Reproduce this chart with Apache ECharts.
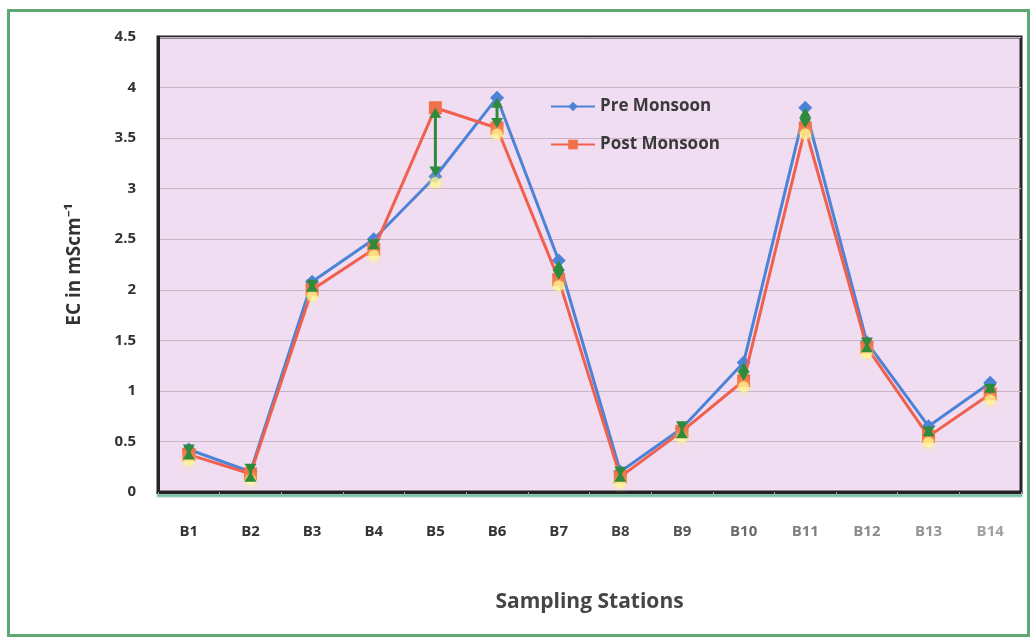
<!DOCTYPE html>
<html>
<head>
<meta charset="utf-8">
<script src="https://cdn.jsdelivr.net/npm/echarts@6/dist/echarts.min.js"></script>
<style>
  html, body { margin: 0; padding: 0; background: #ffffff; }
  #chart { width: 1032px; height: 637px; }
</style>
</head>
<body>
<div id="chart"></div>
<script>
// Sampling stations along the river
const stations = ['B1','B2','B3','B4','B5','B6','B7','B8','B9','B10','B11','B12','B13','B14'];
// Electrical conductivity, mS/cm
const preMonsoon  = [0.42, 0.20, 2.08, 2.50, 3.12, 3.90, 2.29, 0.20, 0.63, 1.28, 3.80, 1.48, 0.65, 1.08];
const postMonsoon = [0.37, 0.18, 2.00, 2.40, 3.80, 3.60, 2.10, 0.15, 0.60, 1.10, 3.60, 1.43, 0.55, 0.97];
// Tick label shades (lighter toward the right)
const labelShades = ['#333','#333','#333','#333','#333','#333','#383838','#444','#555','#6a6a6a','#808080','#8c8c8c','#959595','#a0a0a0'];

const changeData = stations.map((s, i) => [i, preMonsoon[i], postMonsoon[i]]);
const lowData = stations.map((s, i) => [i, Math.min(preMonsoon[i], postMonsoon[i])]);

const chart = echarts.init(document.getElementById('chart'), null, { renderer: 'canvas' });

// Double-headed arrow between the two seasonal readings
function renderArrow(params, api) {
  const i = api.value(0);
  const a = api.coord([i, api.value(1)]);
  const b = api.coord([i, api.value(2)]);
  const x = a[0];
  const top = Math.min(a[1], b[1]);
  const bot = Math.max(a[1], b[1]);
  const hw = 6, hh = 10;
  const green = '#2f8a3c';
  return {
    type: 'group',
    children: [
      { type: 'line', shape: { x1: x, y1: top + hh - 1, x2: x, y2: bot - hh + 1 },
        style: { stroke: green, lineWidth: 3 } },
      { type: 'polygon', shape: { points: [[x, top], [x - hw, top + hh], [x + hw, top + hh]] },
        style: { fill: green } },
      { type: 'polygon', shape: { points: [[x, bot], [x - hw, bot - hh], [x + hw, bot - hh]] },
        style: { fill: green } }
    ]
  };
}

const option = {
  backgroundColor: '#ffffff',
  animation: false,
  textStyle: { fontFamily: '"Open Sans", "Noto Sans", sans-serif' },
  graphic: [{
    type: 'rect', left: 6, top: 8, z: -10,
    shape: { width: 1020, height: 625 },
    style: { fill: 'none', stroke: '#5fa873', lineWidth: 3 }
  }],
  grid: {
    left: 158, top: 37, right: 11, bottom: 145,
    show: true, backgroundColor: '#f1ddf1', borderColor: '#262626', borderWidth: 3
  },
  legend: {
    orient: 'vertical', left: 545, top: 93, itemGap: 21,
    itemWidth: 44, itemHeight: 12,
    textStyle: { fontSize: 17, fontWeight: 'bold', color: '#3a3a3a' },
    data: ['Pre Monsoon', 'Post Monsoon']
  },
  xAxis: {
    type: 'category', data: stations,
    name: 'Sampling Stations', nameLocation: 'middle', nameGap: 100,
    nameTextStyle: { fontSize: 21, fontWeight: 'bold', color: '#454545' },
    axisLine: { lineStyle: { color: '#222', width: 3, shadowColor: 'rgba(40,150,110,0.7)', shadowOffsetY: 3, shadowBlur: 2 } },
    axisTick: { show: true, alignWithLabel: false, length: 4, lineStyle: { color: '#9aa' } },
    axisLabel: {
      margin: 32, fontSize: 15, fontWeight: 'bold',
      color: (v, idx) => labelShades[idx]
    },
    splitLine: { show: false }
  },
  yAxis: {
    type: 'value', min: 0, max: 4.5, interval: 0.5,
    name: 'EC in mScm⁻¹', nameLocation: 'middle', nameGap: 74, nameRotate: 90,
    nameTextStyle: { fontSize: 19, fontWeight: 'bold', color: '#333' },
    axisLine: { show: true, lineStyle: { color: '#262626', width: 3 } },
    axisTick: { show: false },
    axisLabel: { margin: 22, fontSize: 15, fontWeight: 'bold', color: '#333' },
    splitLine: { lineStyle: { color: '#c4b4c4', width: 1 } }
  },
  series: [
    {
      name: 'Post Monsoon', type: 'line', data: postMonsoon, z: 3,
      symbol: 'rect', symbolSize: 13,
      lineStyle: { color: '#f0604e', width: 3 },
      itemStyle: { color: '#f07048' }
    },
    {
      name: 'Pre Monsoon', type: 'line', data: preMonsoon, z: 2,
      symbol: 'diamond', symbolSize: 14,
      lineStyle: { color: '#4d83d6', width: 3 },
      itemStyle: { color: '#4d83d6' }
    },
    {
      name: 'glow', type: 'scatter', data: lowData, z: 4,
      symbol: 'circle', symbolSize: 11, symbolOffset: [0, 6],
      itemStyle: { color: 'rgba(255,248,150,0.85)', shadowBlur: 6, shadowColor: 'rgba(255,240,110,0.9)' },
      silent: true
    },
    {
      name: 'change', type: 'custom', data: changeData, z: 5,
      encode: { x: 0, y: [1, 2] },
      renderItem: renderArrow, silent: true
    }
  ]
};

chart.setOption(option);
</script>
</body>
</html>
